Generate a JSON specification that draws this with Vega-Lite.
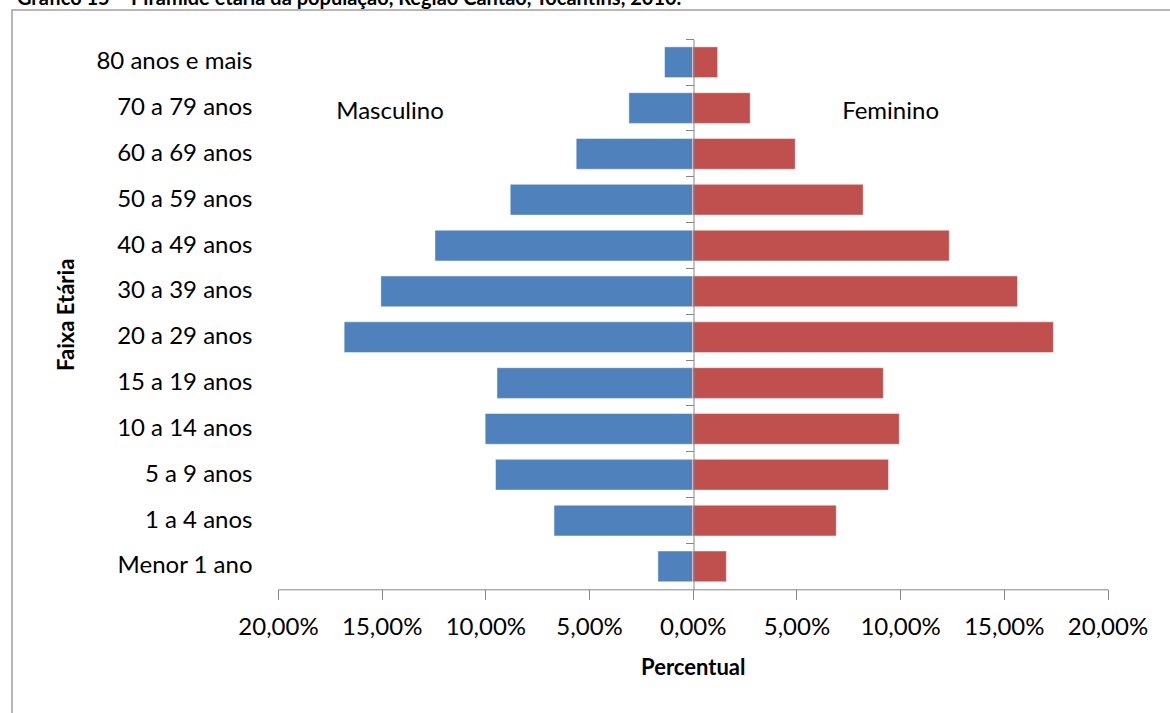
{
  "$schema": "https://vega.github.io/schema/vega-lite/v6.json",
  "width": 1170,
  "height": 710,
  "autosize": {"type": "none"},
  "padding": {"left": 12, "top": 10, "right": 0, "bottom": 0},
  "background": "white",
  "title": {
    "text": "Gráfico 15 – Pirâmide etária da população, Região Cantão, Tocantins, 2010.",
    "anchor": "start",
    "frame": "group",
    "font": "Lato",
    "fontSize": 20,
    "fontWeight": "bold",
    "color": "#000000",
    "offset": 1,
    "dx": 5
  },
  "config": {
    "font": "Lato",
    "view": {"stroke": "#a0a0a0", "strokeWidth": 1.5}
  },
  "resolve": {"axis": {"y": "independent"}},
  "layer": [
    {
      "data": {
        "values": [
          {"faixa": "80 anos e mais", "sexo": "Masculino", "percentual": 1.36},
          {"faixa": "70 a 79 anos", "sexo": "Masculino", "percentual": 3.08},
          {"faixa": "60 a 69 anos", "sexo": "Masculino", "percentual": 5.62},
          {"faixa": "50 a 59 anos", "sexo": "Masculino", "percentual": 8.80},
          {"faixa": "40 a 49 anos", "sexo": "Masculino", "percentual": 12.43},
          {"faixa": "30 a 39 anos", "sexo": "Masculino", "percentual": 15.04},
          {"faixa": "20 a 29 anos", "sexo": "Masculino", "percentual": 16.81},
          {"faixa": "15 a 19 anos", "sexo": "Masculino", "percentual": 9.44},
          {"faixa": "10 a 14 anos", "sexo": "Masculino", "percentual": 10.01},
          {"faixa": "5 a 9 anos", "sexo": "Masculino", "percentual": 9.51},
          {"faixa": "1 a 4 anos", "sexo": "Masculino", "percentual": 6.69},
          {"faixa": "Menor 1 ano", "sexo": "Masculino", "percentual": 1.68},
          {"faixa": "80 anos e mais", "sexo": "Feminino", "percentual": 1.20},
          {"faixa": "70 a 79 anos", "sexo": "Feminino", "percentual": 2.77},
          {"faixa": "60 a 69 anos", "sexo": "Feminino", "percentual": 4.94},
          {"faixa": "50 a 59 anos", "sexo": "Feminino", "percentual": 8.22},
          {"faixa": "40 a 49 anos", "sexo": "Feminino", "percentual": 12.37},
          {"faixa": "30 a 39 anos", "sexo": "Feminino", "percentual": 15.66},
          {"faixa": "20 a 29 anos", "sexo": "Feminino", "percentual": 17.39},
          {"faixa": "15 a 19 anos", "sexo": "Feminino", "percentual": 9.19},
          {"faixa": "10 a 14 anos", "sexo": "Feminino", "percentual": 9.96},
          {"faixa": "5 a 9 anos", "sexo": "Feminino", "percentual": 9.44},
          {"faixa": "1 a 4 anos", "sexo": "Feminino", "percentual": 6.92},
          {"faixa": "Menor 1 ano", "sexo": "Feminino", "percentual": 1.62}
        ]
      },
      "transform": [
        {"calculate": "datum.sexo === 'Masculino' ? -datum.percentual : datum.percentual", "as": "x"}
      ],
      "mark": {"type": "bar", "stroke": "#ffffff", "strokeOpacity": 0.45, "strokeWidth": 1},
      "encoding": {
        "y": {
          "field": "faixa",
          "type": "nominal",
          "scale": {
            "domain": ["80 anos e mais", "70 a 79 anos", "60 a 69 anos", "50 a 59 anos", "40 a 49 anos", "30 a 39 anos", "20 a 29 anos", "15 a 19 anos", "10 a 14 anos", "5 a 9 anos", "1 a 4 anos", "Menor 1 ano"],
            "range": [29.3, 579.3],
            "paddingInner": 0.33,
            "paddingOuter": 0.165
          },
          "axis": {
            "orient": "left",
            "offset": -240,
            "title": "Faixa Etária",
            "domain": false,
            "ticks": false,
            "grid": false,
            "labelPadding": 0,
            "labelFont": "Lato",
            "labelFontSize": 24,
            "labelColor": "#000000",
            "labelLimit": 0,
            "titleFont": "Lato",
            "titleFontSize": 22,
            "titleFontWeight": "bold",
            "titleColor": "#000000",
            "titlePadding": 17
          }
        },
        "x": {
          "field": "x",
          "type": "quantitative",
          "title": "Percentual",
          "scale": {"domain": [-20, 20], "range": [266, 1095.5], "nice": false, "zero": false},
          "axis": {
            "orient": "bottom",
            "offset": -130.7,
            "values": [-20, -15, -10, -5, 0, 5, 10, 15, 20],
            "labelExpr": "replace(format(abs(datum.value), '.2f'), '.', ',') + '%'",
            "grid": false,
            "domainColor": "#868686",
            "tickColor": "#868686",
            "tickSize": 10,
            "labelFont": "Lato",
            "labelFontSize": 24,
            "labelColor": "#000000",
            "labelPadding": 16,
            "labelFlush": false,
            "labelOverlap": false,
            "titleFont": "Lato",
            "titleFontSize": 22,
            "titleFontWeight": "bold",
            "titleColor": "#000000",
            "titlePadding": 18
          }
        },
        "color": {
          "field": "sexo",
          "type": "nominal",
          "scale": {"domain": ["Masculino", "Feminino"], "range": ["#4F81BD", "#C0504D"]},
          "legend": null
        }
      }
    },
    {
      "data": {
        "values": [
          {"faixa": "70 a 79 anos", "x": -14.6, "rotulo": "Masculino"},
          {"faixa": "70 a 79 anos", "x": 9.54, "rotulo": "Feminino"}
        ]
      },
      "mark": {"type": "text", "font": "Lato", "fontSize": 24, "baseline": "middle", "dy": 4, "color": "#000000"},
      "encoding": {
        "y": {
          "field": "faixa",
          "type": "nominal",
          "scale": {
            "domain": ["80 anos e mais", "70 a 79 anos", "60 a 69 anos", "50 a 59 anos", "40 a 49 anos", "30 a 39 anos", "20 a 29 anos", "15 a 19 anos", "10 a 14 anos", "5 a 9 anos", "1 a 4 anos", "Menor 1 ano"],
            "range": [29.3, 579.3],
            "paddingInner": 0.33,
            "paddingOuter": 0.165
          },
          "axis": {
            "orient": "left",
            "offset": -681.5,
            "title": null,
            "labels": false,
            "grid": false,
            "domain": true,
            "domainColor": "#868686",
            "ticks": true,
            "tickColor": "#868686",
            "tickSize": 8,
            "bandPosition": -0.246,
            "zindex": 1
          }
        },
        "x": {"field": "x", "type": "quantitative", "title": "Percentual"},
        "text": {"field": "rotulo", "type": "nominal"}
      }
    }
  ]
}
